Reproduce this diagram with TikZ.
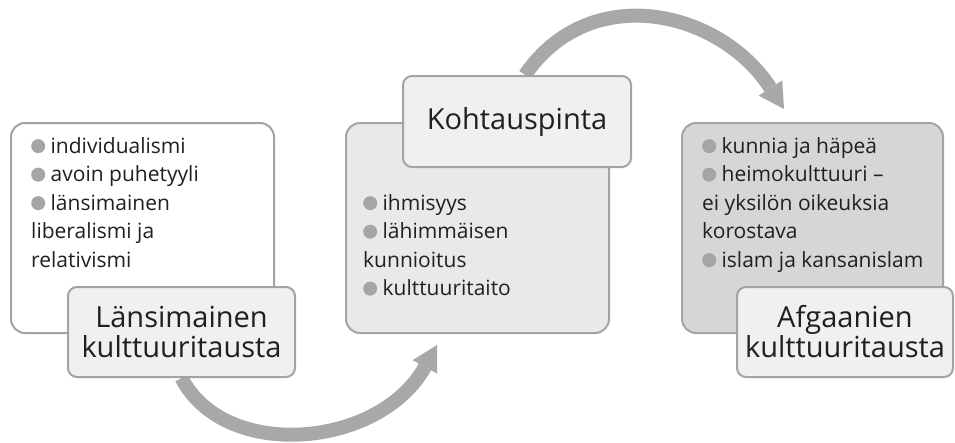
\documentclass[tikz,border=0pt]{standalone}
\usepackage{fontspec}
\setmainfont{Open Sans}
\usetikzlibrary{positioning,arrows.meta,backgrounds}

\definecolor{boxline}{HTML}{A3A3A3}
\definecolor{fillmid}{HTML}{E8E9EA}
\definecolor{filldark}{HTML}{D5D6D7}
\definecolor{filllabel}{HTML}{EFF0F1}
\definecolor{arrowgray}{HTML}{A7A8AA}
\definecolor{bulgray}{HTML}{A5A5A5}
\definecolor{textdark}{HTML}{231F20}

\newcommand{\bul}{\tikz[baseline=0pt]\fill[bulgray] (0pt,7pt) circle[radius=7pt];}

\tikzset{
	bigbox/.style={draw=boxline, line width=2pt, rounded corners=14pt, minimum width=263pt, minimum height=210pt, anchor=north west, inner sep=0pt},
	labelbox/.style={draw=boxline, line width=2pt, rounded corners=9pt, fill=filllabel, minimum width=227pt, minimum height=90pt, align=center, text=textdark, font=\fontsize{29}{30}\selectfont, inner sep=0pt},
	itemlist/.style={anchor=north west, align=left, inner sep=0pt, text=textdark, font=\fontsize{21}{28.5}\selectfont},
	flowarrow/.style={draw=arrowgray, line width=14pt, -{Triangle[length=25pt,width=28pt,line width=0pt]}}
}

\begin{document}
\begin{tikzpicture}[x=1pt, y=-1pt]
	\useasboundingbox (0,0) rectangle (955,442);

	% draw the three boxes
	\node[bigbox, fill=white] (box1) at (10,122) {};
	\node[bigbox, fill=fillmid] (box2) at (345,122) {};
	\node[bigbox, fill=filldark, minimum width=261pt] (box3) at (681,122) {};

	% draw labels
	\node[labelbox] (lab1) at (181.5,332) {Länsimainen\\kulttuuritausta};
	\node[labelbox, minimum width=228pt, minimum height=91pt] (lab2) at (517,121.5) {Kohtauspinta};
	\node[labelbox, minimum width=216pt] (lab3) at (845,332) {Afgaanien\\kulttuuritausta};

	% draw lists
	\node[itemlist] (list1) at ([xshift=21pt,yshift=-15pt]box1.north west)
		{\bul\ individualismi\\\bul\ avoin puhetyyli\\\bul\ länsimainen\\liberalismi ja\\relativismi};
	\node[itemlist] (list2) at ([xshift=18pt,yshift=-72pt]box2.north west)
		{\bul\ ihmisyys\\\bul\ lähimmäisen\\kunnioitus\\\bul\ kulttuuritaito};
	\node[itemlist] (list3) at ([xshift=21pt,yshift=-15pt]box3.north west)
		{\bul\ kunnia ja häpeä\\\bul\ heimokulttuuri –\\ei yksilön oikeuksia\\korostava\\\bul\ islam ja kansanislam};

	% draw arrows
	\begin{scope}[on background layer]
		\draw[flowarrow] (lab1.south) .. controls (225,462) and (380,448) .. ([xshift=92pt,yshift=-11pt]box2.south west);
		\draw[flowarrow] ([xshift=8pt]lab2.north) .. controls (590,-20) and (720,10) .. ([xshift=103pt,yshift=13pt]box3.north west);
	\end{scope}

\end{tikzpicture}
\end{document}
